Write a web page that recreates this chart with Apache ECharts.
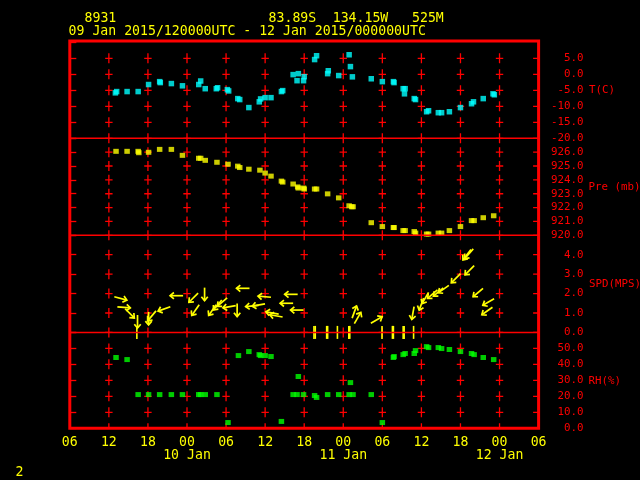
<!DOCTYPE html>
<html><head><meta charset="utf-8">
<script src="https://cdn.jsdelivr.net/npm/echarts@6/dist/echarts.min.js"></script>
<style>html,body{margin:0;padding:0;background:#000;}#c{width:640px;height:480px;}</style>
</head><body><div id="c"></div>
<script>
// ---- data (hours since 09 Jan 2015 06 UTC) ----
const xTickLabels = ['06','12','18','00','06','12','18','00','06','12','18','00','06'];
const dateLabels  = ['','','','10 Jan','','','','11 Jan','','','','12 Jan',''];
const xTickHours  = [6,12,18,24,30,36,42,48,54,60,66,72];

const tLabels   = [-20,-15,-10,-5,0,5];
const preLabels = [920,921,922,923,924,925,926];
const spdLabels = [0,1,2,3,4];
const rhLabels  = [0,10,20,30,40,50];

const tCross   = [-20,-15,-10,-5,0,5];
const preCross = [920,921,922,923,924,925,926,927];
const spdCross = [0,1,2,3,4,5];
const rhCross  = [0,10,20,30,40,50,60];

const tData = [[7.0,-5.8],[7.2,-5.4],[8.8,-5.4],[10.5,-5.4],[12.1,-3.2],[13.8,-2.3],[13.9,-2.6],[15.6,-2.9],[17.3,-3.6],[19.8,-3.2],[20.1,-2.1],[20.8,-4.5],[22.5,-4.5],[22.7,-4.2],[24.2,-4.8],[24.4,-5.2],[25.8,-7.6],[26.1,-7.9],[27.5,-10.4],[29.1,-8.6],[29.3,-7.7],[30.0,-7.3],[30.9,-7.3],[32.5,-5.4],[32.7,-5.1],[34.3,-0.1],[34.9,-2.0],[35.1,0.2],[35.9,-2.0],[36.0,-0.75],[37.6,4.6],[37.9,5.8],[39.6,0.2],[39.7,1.1],[41.3,-0.4],[42.9,6.1],[43.1,2.4],[43.4,-0.8],[46.3,-1.4],[48.0,-2.3],[49.7,-2.3],[49.8,-2.6],[51.2,-4.5],[51.4,-6.1],[51.5,-4.5],[52.9,-7.6],[53.1,-7.9],[54.8,-11.7],[55.1,-11.4],[56.6,-12.0],[57.1,-12.0],[58.3,-11.7],[60.0,-10.4],[61.7,-9.2],[62.0,-8.6],[63.5,-7.6],[65.0,-6.1],[65.2,-6.4]];

const preData = [[7.1,926.06],[8.8,926.06],[10.5,926.06],[10.6,925.96],[12.1,925.99],[13.8,926.2],[15.6,926.2],[17.3,925.77],[19.8,925.56],[20.1,925.56],[20.8,925.41],[22.6,925.27],[24.3,925.13],[25.8,924.99],[26.1,924.89],[27.5,924.77],[29.2,924.7],[30.0,924.49],[30.9,924.27],[32.5,923.91],[32.7,923.84],[34.3,923.7],[35.0,923.49],[35.1,923.41],[35.9,923.41],[36.0,923.34],[37.6,923.34],[37.9,923.34],[39.6,922.99],[41.3,922.7],[42.9,922.13],[43.3,922.06],[43.5,922.06],[46.3,920.91],[48.0,920.63],[49.7,920.56],[49.8,920.56],[51.2,920.34],[51.5,920.34],[52.9,920.27],[53.1,920.16],[54.8,920.09],[55.1,920.09],[56.6,920.16],[57.1,920.16],[58.3,920.34],[60.0,920.63],[61.7,921.06],[62.1,921.06],[63.5,921.27],[65.1,921.41]];

const rhData = [[7.1,44.3],[8.8,43.0],[10.5,21.1],[12.1,21.1],[13.8,21.1],[15.6,21.1],[17.3,21.1],[19.8,21.1],[20.1,21.1],[20.8,21.1],[22.6,21.1],[24.3,3.6],[25.9,45.5],[27.5,48.0],[29.1,46.1],[29.3,45.5],[30.0,45.5],[30.9,44.9],[32.5,4.3],[34.3,21.1],[34.9,21.1],[35.1,32.4],[35.9,21.1],[37.6,20.5],[37.9,19.3],[39.6,21.1],[41.3,21.1],[42.9,21.1],[43.1,28.6],[43.5,21.1],[46.3,21.1],[48.0,3.6],[49.7,44.3],[49.8,44.9],[51.2,46.1],[51.5,46.8],[52.9,46.8],[53.1,48.6],[54.8,51.1],[55.1,50.5],[56.6,50.5],[57.1,49.9],[58.3,49.3],[60.0,48.0],[61.7,46.8],[62.1,46.1],[63.5,44.3],[65.1,43.0]];

// [hour, speed m/s, direction wind blows FROM (deg)]
const windData = [[7.8,1.75,285],[8.3,1.29,275],[9.2,0.98,315],[10.4,0.56,360],[12.1,0.72,360],[12.6,0.85,40],[14.5,1.21,70],[16.4,1.89,90],[19.0,1.79,45],[20.7,1.97,360],[19.3,1.15,35],[21.9,1.15,35],[22.7,1.41,40],[23.4,1.56,50],[24.5,1.32,80],[25.7,1.15,360],[26.6,2.27,90],[28.0,1.36,85],[29.0,1.41,80],[29.9,1.84,95],[31.1,1.0,100],[31.7,0.85,100],[33.3,1.5,90],[34.0,1.96,90],[34.9,1.15,90],[43.7,1.05,200],[44.2,0.74,210],[47.1,0.64,240],[52.7,1.0,10],[54.0,1.46,20],[54.6,1.77,30],[55.7,1.97,50],[56.6,2.08,50],[57.4,2.23,55],[59.3,2.79,45],[61.4,3.2,45],[61.0,4.0,38],[61.3,4.05,42],[62.7,2.05,50],[64.3,1.56,60],[64.1,1.1,55]];
const windCalm = [10.3,37.5,37.7,39.45,39.6,41.1,42.85,43.0,47.95,49.55,49.7,51.2,51.35,52.8];

// ---- chart ----
const RED = '#ff0000', YEL = '#ffff00';
const FONT = 'DejaVu Sans Mono';
const GL = 69.8, GW = 468.8;
const panels = [
  {top:41,   height:97.3, min:-20, max:10.4, interval:5, labels:tLabels,   cross:tCross},
  {top:138.3,height:97,   min:920, max:927,  interval:1, labels:preLabels, cross:preCross},
  {top:235.3,height:97.1, min:0,   max:5,    interval:1, labels:spdLabels, cross:spdCross},
  {top:332.4,height:95.9, min:0,   max:60,   interval:10,labels:rhLabels,  cross:rhCross}
];

function crossRender(params, api) {
  const h = api.value(0);
  const p = api.coord([h, api.value(1)]);
  const edge = h >= 72;
  const hw = edge ? 5.5 : 3.7;
  const st = {stroke: RED, lineWidth: 1.3};
  const ch = [{type:'line', shape:{x1:p[0]-hw,y1:p[1],x2:p[0]+hw,y2:p[1]}, style:st}];
  if (!edge) ch.push({type:'line', shape:{x1:p[0],y1:p[1]-5,x2:p[0],y2:p[1]+5}, style:st});
  return {type:'group', children:ch};
}
function windRender(params, api) {
  const p = api.coord([api.value(0), api.value(1)]);
  const a = (api.value(2) + 180) * Math.PI / 180;
  const dx = Math.sin(a), dy = -Math.cos(a);
  const L = 13, H = 5, ang = 40 * Math.PI / 180;
  const tail = [p[0]-dx*L/2, p[1]-dy*L/2], tip = [p[0]+dx*L/2, p[1]+dy*L/2];
  const bx = -dx, by = -dy;
  const r1 = [bx*Math.cos(ang)-by*Math.sin(ang), bx*Math.sin(ang)+by*Math.cos(ang)];
  const r2 = [bx*Math.cos(-ang)-by*Math.sin(-ang), bx*Math.sin(-ang)+by*Math.cos(-ang)];
  const st = {stroke: YEL, lineWidth: 1.7, fill: null};
  return {type:'group', children:[
    {type:'polyline', shape:{points:[tail, tip]}, style:st},
    {type:'polyline', shape:{points:[[tip[0]+r1[0]*H, tip[1]+r1[1]*H], tip, [tip[0]+r2[0]*H, tip[1]+r2[1]*H]]}, style:st}
  ]};
}
function calmRender(params, api) {
  const p = api.coord([api.value(0), 0]);
  return {type:'line', shape:{x1:p[0], y1:p[1]-6.5, x2:p[0], y2:p[1]+6.5}, style:{stroke:YEL, lineWidth:1.6}};
}

const grid = [], xAxis = [], yAxis = [], series = [];
panels.forEach((pn, i) => {
  grid.push({left:GL, width:GW, top:pn.top, height:pn.height, containLabel:false, outerBoundsMode:'none'});
  const last = i === panels.length - 1;
  xAxis.push({gridIndex:i, type:'value', min:0, max:72, interval:6, show:last,
    axisLine:{show:false}, axisTick:{show:false}, splitLine:{show:false},
    axisLabel:{show:last, color:YEL, fontFamily:FONT, fontSize:13.2, lineHeight:13, margin:8,
      showMinLabel:true, showMaxLabel:true, hideOverlap:false,
      formatter: v => { const k = Math.round(v/6); const d = dateLabels[k]; return d ? xTickLabels[k] + '\n' + d : xTickLabels[k]; }}});
  yAxis.push({gridIndex:i, type:'value', position:'right', min:pn.min, max:pn.max, interval:pn.interval,
    axisLine:{show:false}, splitLine:{show:false},
    axisTick:{show:true, length:6.5, lineStyle:{color:RED, width:1.3}},
    axisLabel:{color:RED, fontFamily:FONT, fontSize:10.8, margin:45, align:'right', hideOverlap:false,
      showMinLabel:true, showMaxLabel:true,
      formatter: v => pn.labels.some(l => Math.abs(l - v) < 1e-6) ? Number(v).toFixed(1) : ''}});
  const cd = [];
  xTickHours.forEach(h => pn.cross.forEach(y => cd.push([h, y])));
  series.push({type:'custom', xAxisIndex:i, yAxisIndex:i, clip:true, renderItem:crossRender, data:cd, silent:true, z:1});
});

series.push({type:'scatter', xAxisIndex:0, yAxisIndex:0, symbol:'rect', symbolSize:[5.5,5.5], itemStyle:{color:'#00ffff'}, data:tData, z:5});
series.push({type:'scatter', xAxisIndex:1, yAxisIndex:1, symbol:'rect', symbolSize:[5.5,5], itemStyle:{color:YEL}, data:preData, z:5});
series.push({type:'custom', xAxisIndex:2, yAxisIndex:2, renderItem:windRender, data:windData, z:5});
series.push({type:'custom', xAxisIndex:2, yAxisIndex:2, renderItem:calmRender, data:windCalm.map(h => [h, 0]), z:5});
series.push({type:'scatter', xAxisIndex:3, yAxisIndex:3, symbol:'rect', symbolSize:[5.5,5], itemStyle:{color:'#00ff00'}, data:rhData, z:5});

const txt = (x, y, s, color, size, align) => ({type:'text', x, y, z:50,
  style:{text:s, fill:color, font: size + 'px "' + FONT + '"', textAlign: align || 'left', textVerticalAlign:'middle'}});

const graphic = [
  {type:'rect', z:40, shape:{x:GL, y:41, width:GW, height:387.3}, style:{fill:null, stroke:RED, lineWidth:3}},
  {type:'line', z:40, shape:{x1:GL, y1:138.3, x2:GL+GW, y2:138.3}, style:{stroke:RED, lineWidth:1.5}},
  {type:'line', z:40, shape:{x1:GL, y1:235.3, x2:GL+GW, y2:235.3}, style:{stroke:RED, lineWidth:1.5}},
  {type:'line', z:40, shape:{x1:GL, y1:332.4, x2:GL+GW, y2:332.4}, style:{stroke:RED, lineWidth:1.5}},
  txt(84.5, 19, '8931', YEL, 13.2),
  txt(268.6, 19, '83.89S', YEL, 13.2),
  txt(332.7, 19, '134.15W', YEL, 13.2),
  txt(412, 19, '525M', YEL, 13.2),
  txt(68.6, 32, '09 Jan 2015/120000UTC - 12 Jan 2015/000000UTC', YEL, 13.2),
  txt(15.5, 473, '2', YEL, 13.2),
  txt(589, 90, 'T(C)', RED, 10.8),
  txt(588.5, 186.7, 'Pre (mb)', RED, 10.8),
  txt(589, 284, 'SPD(MPS)', RED, 10.8),
  txt(588.5, 380.7, 'RH(%)', RED, 10.8)
];

const chart = echarts.init(document.getElementById('c'), null, {renderer:'canvas'});
chart.setOption({backgroundColor:'#000', animation:false, grid, xAxis, yAxis, series, graphic});
</script></body></html>
